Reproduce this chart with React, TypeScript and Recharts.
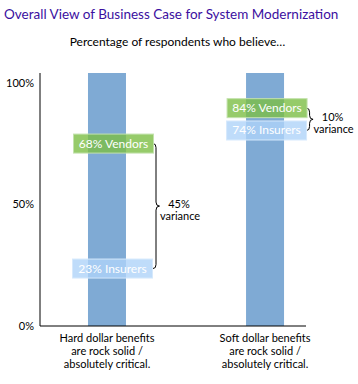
import { Bar, BarChart, ReferenceArea, ReferenceDot, XAxis, YAxis } from "recharts"

const categoryLines = [
  ["Hard dollar benefits", "are rock solid /", "absolutely critical."],
  ["Soft dollar benefits", "are rock solid /", "absolutely critical."],
]
// columns run to the top of the value axis
const columnHeight = [104, 104]
const vendorShare = [68, 84]
const insurerShare = [23, 74]
const varianceText = ["45%", "10%"]
const yTicks = [0, 50, 100]

// pixel nudges for the callout boxes, as placed in the original graphic
const vendorNudge = [
  [6.5, -17],
  [2, -13.5],
]
const insurerNudge = [
  [5.5, -1.5],
  [1.5, -15.5],
]
const braceDx = [49, 44.5]

const FONT = "Lato, 'Open Sans', sans-serif"

const data = categoryLines.map((_, i) => ({ pos: i, column: columnHeight[i] }))

function CategoryTick({ x, y, payload }: any) {
  const lines = categoryLines[payload.value] || []
  return (
    <text x={x} y={y} textAnchor="middle" fontSize={11} fill="#000" fontFamily={FONT}>
      {lines.map((l, i) => (
        <tspan key={i} x={x} dy={i === 0 ? 16 : 13}>
          {l}
        </tspan>
      ))}
    </text>
  )
}

function callout(text: string, fill: string, stroke: string, dx: number, dy: number) {
  return (props: any) => {
    const cx = props.cx + dx
    const cy = props.cy + dy
    return (
      <g>
        <rect x={cx - 40} y={cy - 9.5} width={80} height={19} fill={fill} fillOpacity={0.8} stroke={stroke} />
        <text x={cx} y={cy + 4} textAnchor="middle" fontSize={12} fill="#fff" fontFamily={FONT}>
          {text}
        </text>
      </g>
    )
  }
}

function brace(i: number) {
  return (props: any) => {
    const bx = props.x + braceDx[i]
    const top = props.y + vendorNudge[i][1]
    const bot = props.y + props.height + insurerNudge[i][1]
    const mid = (top + bot) / 2
    const d = `M${bx - 3},${top} Q${bx},${top} ${bx},${top + 4} L${bx},${mid - 4} Q${bx},${mid} ${bx + 3.5},${mid} Q${bx},${mid} ${bx},${mid + 4} L${bx},${bot - 4} Q${bx},${bot} ${bx - 3},${bot}`
    return (
      <g>
        <path d={d} fill="none" stroke="#000" strokeWidth={1} />
        <text x={bx + 23} y={mid + 2} textAnchor="middle" fontSize={11} fill="#000" fontFamily={FONT}>
          {varianceText[i]}
        </text>
        <text x={bx + 24} y={mid + 14} textAnchor="middle" fontSize={11} fill="#000" fontFamily={FONT}>
          variance
        </text>
      </g>
    )
  }
}

export default function App() {
  return (
    <div style={{ position: "absolute", left: 0, top: 0, width: 358, height: 384, background: "#fff", fontFamily: FONT }}>
      <div style={{ position: "absolute", left: 4, top: 6, fontSize: 13.5, lineHeight: "16px", color: "#3b0fa0", whiteSpace: "nowrap" }}>
        Overall View of Business Case for System Modernization
      </div>
      <div style={{ position: "absolute", left: 0, top: 34, width: 355, textAlign: "center", fontSize: 12, lineHeight: "16px", color: "#000" }}>
        Percentage of respondents who believe…
      </div>
      <BarChart width={358} height={384} data={data} margin={{ top: 73, right: 52, bottom: 8, left: 0 }}>
        <XAxis
          type="number"
          dataKey="pos"
          domain={[-0.424, 1.259]}
          ticks={[0, 1]}
          interval={0}
          allowDataOverflow
          tickLine={false}
          tickSize={0}
          tickMargin={0}
          axisLine={{ stroke: "#000" }}
          tick={<CategoryTick />}
          height={50}
        />
        <YAxis
          type="number"
          domain={[0, 104]}
          ticks={yTicks}
          allowDataOverflow
          width={40}
          tickLine={false}
          tickSize={4}
          tickMargin={2}
          axisLine={{ stroke: "#000" }}
          tick={{ fill: "#000", fontSize: 11, fontFamily: FONT }}
          tickFormatter={(v: number) => `${v}%`}
        />
        <Bar dataKey="column" fill="#7faad4" barSize={38} isAnimationActive={false} />
        {vendorShare.map((v, i) => (
          <ReferenceArea
            key={`b${i}`}
            x1={i}
            x2={i + 0.1}
            y1={insurerShare[i]}
            y2={v}
            ifOverflow="visible"
            shape={brace(i)}
          />
        ))}
        {insurerShare.map((v, i) => (
          <ReferenceDot
            key={`i${i}`}
            x={i}
            y={v}
            r={1}
            ifOverflow="visible"
            shape={callout(`${v}% Insurers`, "#afd3f9", "#d6e9fc", insurerNudge[i][0], insurerNudge[i][1])}
          />
        ))}
        {vendorShare.map((v, i) => (
          <ReferenceDot
            key={`v${i}`}
            x={i}
            y={v}
            r={1}
            ifOverflow="visible"
            shape={callout(`${v}% Vendors`, "#7cbe45", "#c3e2ad", vendorNudge[i][0], vendorNudge[i][1])}
          />
        ))}
      </BarChart>
    </div>
  )
}
